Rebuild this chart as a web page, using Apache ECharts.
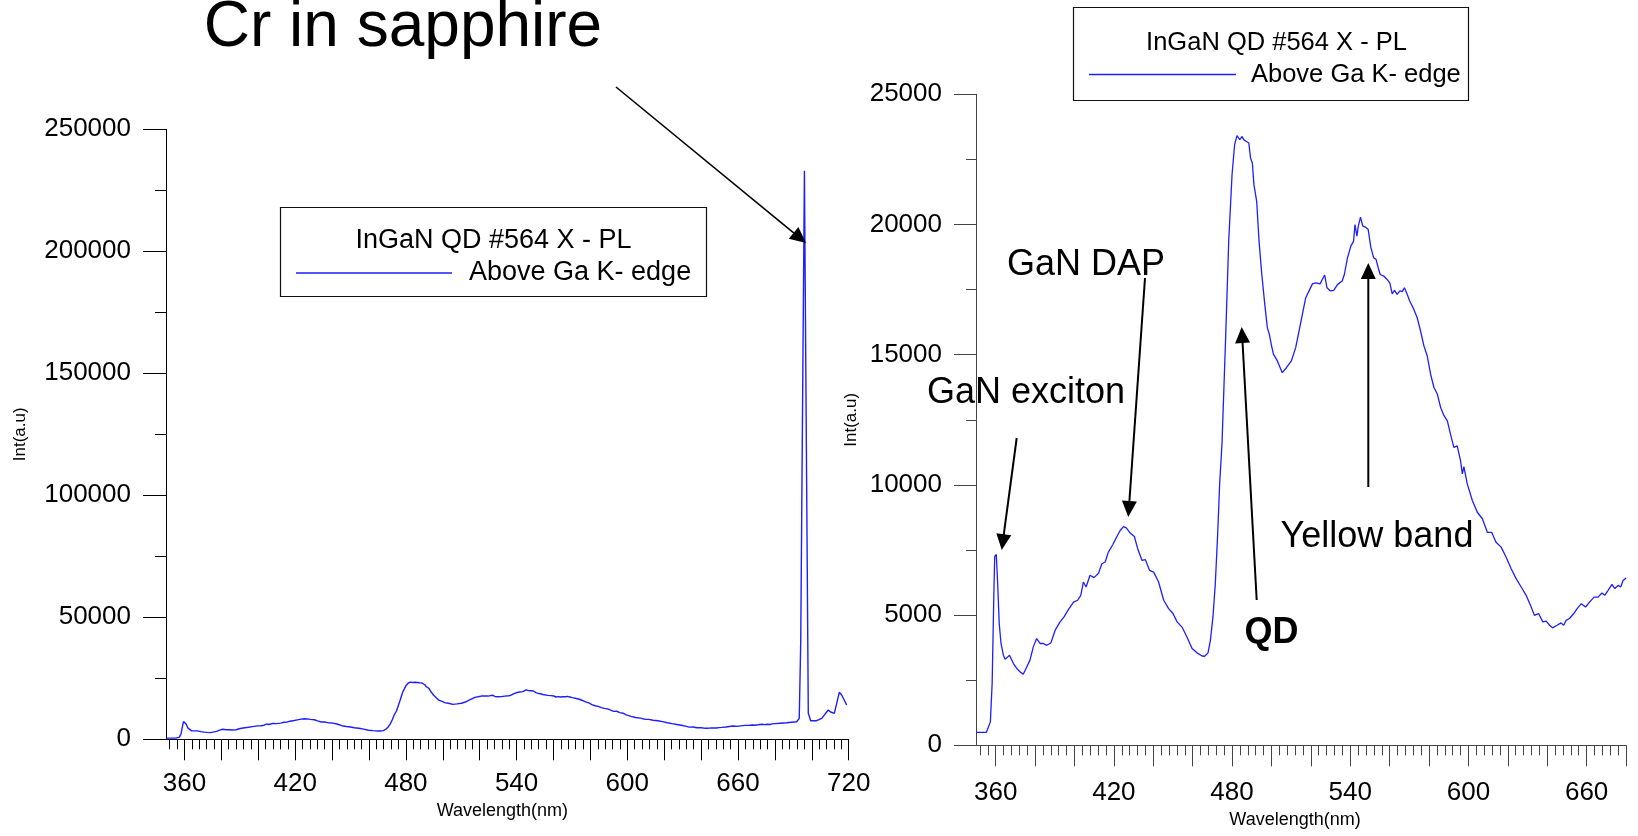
<!DOCTYPE html>
<html><head><meta charset="utf-8">
<script src="https://cdn.jsdelivr.net/npm/echarts@6/dist/echarts.min.js"></script>
<style>html,body{margin:0;padding:0;background:#fff;}#c{width:1638px;height:836px;}</style>
</head><body><div id="c"></div>
<script>
// ---- data ----
const wavelength = [350,355.3,357.3,358.2,359,359.5,360.3,361,361.8,362.7,363.9,364.8,367,369,370.7,372.4,374,375.4,377.4,379.1,380.8,381.8,382.5,384.2,385.9,388,390.2,392.7,394.7,396.9,399.5,401.6,403.2,404.5,405.9,407.9,409.9,412.2,413.9,415.6,417.2,419.5,421.2,423.2,424.9,426.3,428.3,430.4,432.1,434.3,436,438.1,440.2,442.7,445.3,447.8,450,452.1,454.6,457.1,459.7,462.2,464.8,466.1,467.8,469,470.3,471.5,472.7,473.7,474.9,476.8,478.3,480,481.3,482.5,483.9,485.1,485.9,487.3,488.5,489.4,490.3,491.1,492.5,493.7,495.1,496.6,497.9,498.9,499.9,501,503,505.5,507.7,510.1,512.3,514,515.7,517.4,519.1,520.8,522.5,524.7,525.8,527,528.2,529.9,531.6,533.6,535.9,537,538.6,540.3,541.7,542.4,543.4,544.1,545.2,546.4,547.7,549.1,550.5,551.9,553.1,554.2,555.2,557,558.7,560.1,561.3,562.5,563.8,565.2,566.4,567.5,568.9,570.2,572.3,574,575.7,577.4,579.1,580.8,582.5,584.2,585.9,587.6,589.3,590.9,592.6,594.3,596,596.9,597.7,599.4,602,604.5,607.1,609.6,611.8,614,616.6,619.1,621.7,624.2,626.8,629.3,631.5,633.5,635.6,637.8,639.5,641.2,642.7,645,647,648.4,649.6,651.3,653.5,655.2,657.3,659.5,661.5,663.8,665.8,667.8,669.2,670.9,672.9,674.3,676,677.3,678.5,680];
const intensity = [500,500,900,2380,5570,7250,7330,6210,4670,3910,3460,3300,3460,3140,2950,2820,2730,2950,3270,3780,4100,4160,3910,3910,3840,3930,4420,4740,4930,5210,5500,5570,5760,6270,6080,6530,6440,6610,6970,7040,7420,7710,7970,8250,8400,8350,8150,8020,7550,7100,7130,6720,6650,6270,5570,5250,5060,4740,4540,4160,3720,3550,3430,3420,3550,4030,4930,6210,8120,10040,11600,15790,19360,21920,23070,23410,23260,23380,23260,23190,23130,22550,22360,21530,20890,19360,18080,16940,16040,15790,15400,15020,14760,14310,14510,14760,15270,15910,16550,17190,17450,17720,17760,17720,17890,18060,17570,17450,17470,17700,17830,18080,18720,19170,19360,20000,19550,19940,20280,19940,19900,19810,19100,18720,18660,18340,18080,18020,17890,17760,17340,17470,17320,17450,17420,17570,17320,17060,16740,16420,15910,15340,14950,14250,13740,13490,12970,12660,12460,11950,11440,11500,10930,10420,10700,10040,9400,8950,8700,8180,8180,7800,7610,7230,6780,6400,6080,5760,5380,4990,5060,4740,4770,4610,4510,4610,4700,4610,4800,4870,5060,5250,5440,5310,5500,5690,5690,5850,5760,5950,6180,6020,6140,6080,6330,6420];
// extra range shown only on the left chart (Cr line in sapphire)
const wavelengthTail = [683,686.4,689,691.8,693.2,694,696,697.2,698.1,699.4,702.6,705.4,708.9,710.2,712.2,713.5,714.9,716.2,718.9];
const intensityTail = [6600,6800,7000,7200,8600,40000,233000,106000,10650,7620,7620,8600,12000,11200,10650,14750,19260,18150,14060];

const seriesName = 'Above Ga K- edge';
const legendTitle = 'InGaN QD #564 X - PL';
const leftXLabels = [360,420,480,540,600,660,720];
const leftXMajorTicks = [360,380,400,420,440,460,480,500,520,540,560,580,600,620,640,660,680,700,720];
const rightXLabels = [360,420,480,540,600,660];
const rightXMajorTicks = [360,380,400,420,440,460,480,500,520,540,560,580,600,620,640,660,680];
const leftXMinorTicks = []; for (let v = 352; v <= 716; v += 4) leftXMinorTicks.push(v);
const rightXMinorTicks = []; for (let v = 352; v <= 676; v += 4) rightXMinorTicks.push(v);

// ---- chart ----
const FONT = 'Liberation Sans, Arial, Helvetica, sans-serif';
const BLUE = 'rgb(30,30,255)';
const chart = echarts.init(document.getElementById('c'), null, {renderer: 'canvas'});

const leftData = wavelength.map((w, i) => [w, intensity[i]])
  .concat(wavelengthTail.map((w, i) => [w, intensityTail[i]]));
const rightData = wavelength.map((w, i) => [w, intensity[i]]);

function xMain(grid, min, max, labels, majors, color, labelMargin, nameGap, namePad) {
  return {
    type: 'value', gridIndex: grid, position: 'bottom', min, max,
    axisLine: {show: true, onZero: false, lineStyle: {color, width: 1}},
    axisTick: {show: true, length: 21, customValues: majors, lineStyle: {color, width: 1}},
    axisLabel: {show: true, customValues: labels, margin: labelMargin, fontSize: 26, fontFamily: FONT, color: '#000',
      formatter: v => String(v)},
    splitLine: {show: false},
    name: 'Wavelength(nm)', nameLocation: 'middle', nameGap,
    nameTextStyle: {fontSize: 18, fontFamily: FONT, color: '#000', padding: [0, namePad, 0, 0]}
  };
}
function xMinor(grid, min, max, ticks, color) {
  return {
    type: 'value', gridIndex: grid, position: 'bottom', min, max,
    axisLine: {show: false},
    axisTick: {show: true, length: 10, customValues: ticks, lineStyle: {color, width: 1}},
    axisLabel: {show: false}, splitLine: {show: false}
  };
}
function yAxis(grid, max, interval, color, majorLen, minorLen, margin, nameGap) {
  return {
    type: 'value', gridIndex: grid, min: 0, max, interval,
    axisLine: {show: true, lineStyle: {color, width: 1}},
    axisTick: {show: true, length: majorLen, lineStyle: {color, width: 1}},
    minorTick: {show: true, splitNumber: 2, length: minorLen, lineStyle: {color, width: 1}},
    axisLabel: {margin, fontSize: 26, fontFamily: FONT, color: '#000', formatter: v => String(v)},
    splitLine: {show: false}, minorSplitLine: {show: false},
    name: 'Int(a.u)', nameLocation: 'middle', nameRotate: 90, nameGap,
    nameTextStyle: {fontSize: 17, fontFamily: FONT, color: '#000'}
  };
}

function arrow(x1, y1, x2, y2, w) {
  const dx = x2 - x1, dy = y2 - y1, L = Math.hypot(dx, dy), ux = dx / L, uy = dy / L;
  const hl = 16, hw = 7.5;
  const bx = x2 - ux * hl, by = y2 - uy * hl;
  return [
    {type: 'line', z: 100, shape: {x1, y1, x2: bx + ux * 2, y2: by + uy * 2}, style: {stroke: '#000', lineWidth: w}},
    {type: 'polygon', z: 100, shape: {points: [[x2, y2], [bx - uy * hw, by + ux * hw], [bx + uy * hw, by - ux * hw]]}, style: {fill: '#000'}}
  ];
}
function label(text, x, y, size, bold) {
  return {type: 'text', z: 100, x, y, style: {text, fontSize: size, fontFamily: FONT, fontWeight: bold ? 'bold' : 'normal',
    fill: '#000', align: 'center', verticalAlign: 'middle'}};
}

const graphics = [
  // legend frames + titles
  {type: 'rect', z: 90, shape: {x: 280.5, y: 207.5, width: 426, height: 89}, style: {fill: 'none', stroke: '#111', lineWidth: 1.2}},
  label(legendTitle, 493.5, 241, 27),
  {type: 'rect', z: 90, shape: {x: 1073.5, y: 7.5, width: 395, height: 93}, style: {fill: 'none', stroke: '#111', lineWidth: 1.2}},
  label(legendTitle, 1276.5, 43, 25.5),
  // annotations
  label('Cr in sapphire', 403, 28, 64),
  label('GaN DAP', 1086, 265, 36),
  label('GaN exciton', 1026, 393, 36),
  label('QD', 1271.5, 633, 36, true),
  label('Yellow band', 1377, 537, 36),
  ...arrow(616, 87, 806, 243, 1.6),
  ...arrow(1016.7, 438, 1001.7, 550, 2),
  ...arrow(1145, 278, 1128.3, 517, 2),
  ...arrow(1256.7, 600, 1241.7, 327, 2),
  ...arrow(1368.3, 487, 1368.3, 263, 2)
];

chart.setOption({
  animation: false,
  backgroundColor: '#fff',
  grid: [
    {left: 166, top: 129.3, width: 682.7, height: 610, containLabel: false, outerBoundsMode: 'none'},
    {left: 976, top: 94.3, width: 650, height: 651, containLabel: false, outerBoundsMode: 'none'}
  ],
  xAxis: [
    xMain(0, 350, 720, leftXLabels, leftXMajorTicks, '#000', 32, 60, 10),
    xMinor(0, 350, 720, leftXMinorTicks, '#000'),
    xMain(1, 350, 680, rightXLabels, rightXMajorTicks, '#444', 35, 64, 12),
    xMinor(1, 350, 680, rightXMinorTicks, '#444')
  ],
  yAxis: [
    yAxis(0, 250000, 50000, '#000', 23, 11, 35, 137),
    yAxis(1, 25000, 5000, '#444', 22, 10, 34, 116)
  ],
  legend: [
    {left: 296, top: 259.5, padding: 0, icon: 'rect', itemWidth: 156, itemHeight: 1.5, data: [seriesName], selectedMode: false,
      itemStyle: {color: BLUE, borderWidth: 0},
      textStyle: {fontSize: 27, fontFamily: FONT, color: '#000', padding: [0, 0, 0, 12]}},
    {left: 1089, top: 61.5, padding: 0, icon: 'rect', itemWidth: 147, itemHeight: 1.5, data: [seriesName], selectedMode: false,
      itemStyle: {color: BLUE, borderWidth: 0},
      textStyle: {fontSize: 25.5, fontFamily: FONT, color: '#000', padding: [0, 0, 0, 10]}}
  ],
  series: [
    {name: seriesName, type: 'line', xAxisIndex: 0, yAxisIndex: 0, data: leftData, showSymbol: false, symbol: 'none',
      lineStyle: {color: BLUE, width: 1.4}, itemStyle: {color: BLUE}, clip: true},
    {name: seriesName, type: 'line', xAxisIndex: 2, yAxisIndex: 1, data: rightData, showSymbol: false, symbol: 'none',
      lineStyle: {color: BLUE, width: 1.3}, itemStyle: {color: BLUE}, clip: true}
  ],
  graphic: graphics
});
</script>
</body></html>
